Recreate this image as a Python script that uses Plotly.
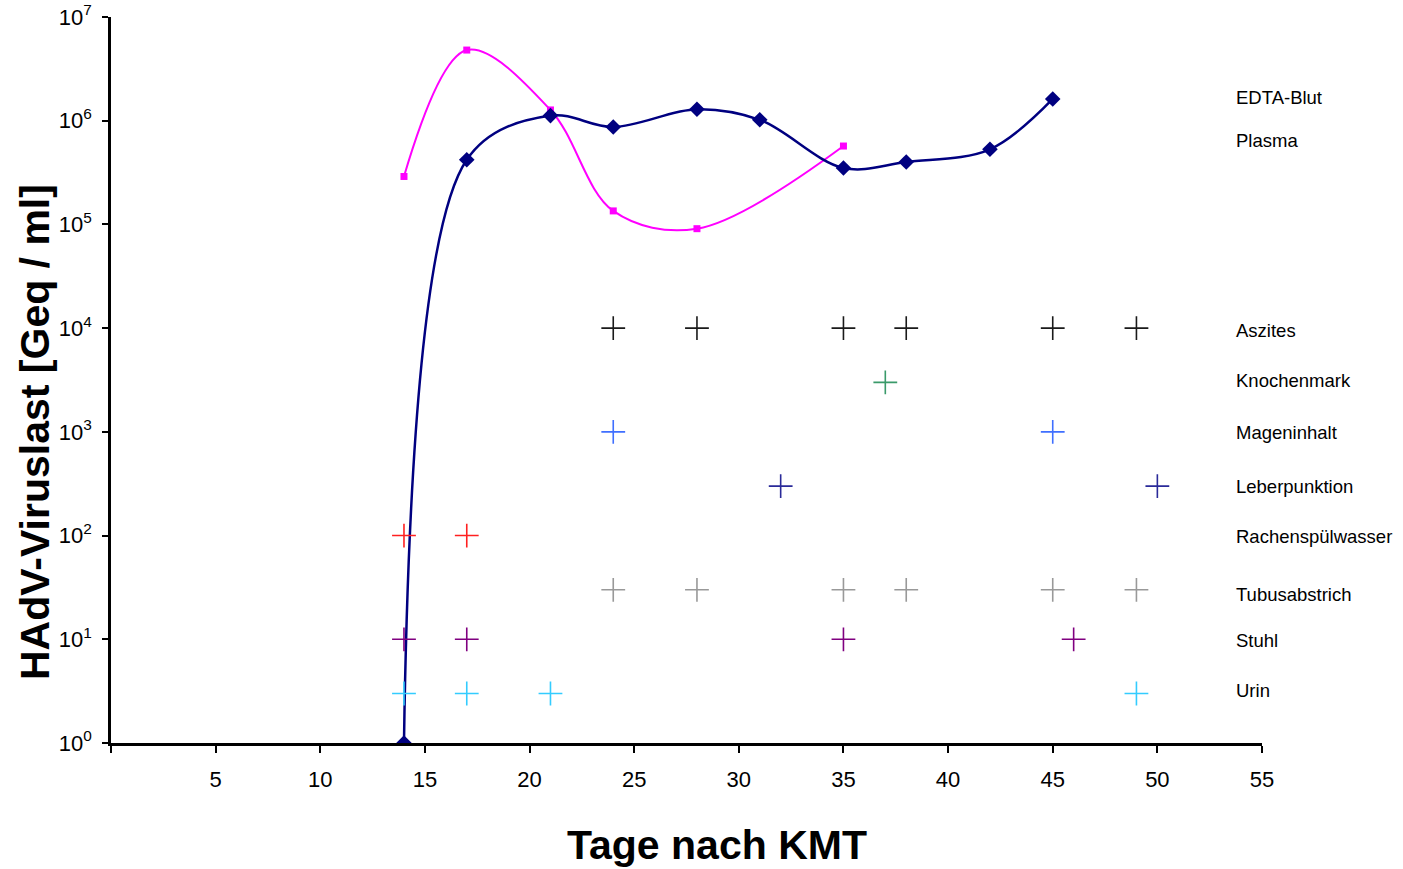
import plotly.graph_objects as go

# --- data ---
edta_days = [14, 17, 21, 24, 28, 31, 35, 38, 42, 45]
edta_vals = [1, 4.2e5, 1.12e6, 8.7e5, 1.29e6, 1.02e6, 3.5e5, 4.0e5, 5.3e5, 1.62e6]

plasma_days = [14, 17, 21, 24, 28, 35]
plasma_vals = [2.9e5, 4.8e6, 1.27e6, 1.35e5, 9.1e4, 5.7e5]

aszites_days = [24, 28, 35, 38, 45, 49]
aszites_vals = [1e4, 1e4, 1e4, 1e4, 1e4, 1e4]

knochenmark_days = [37]
knochenmark_vals = [3e3]

mageninhalt_days = [24, 45]
mageninhalt_vals = [1e3, 1e3]

leber_days = [32, 50]
leber_vals = [3e2, 3e2]

rachen_days = [14, 17]
rachen_vals = [1e2, 1e2]

tubus_days = [24, 28, 35, 38, 45, 49]
tubus_vals = [30, 30, 30, 30, 30, 30]

stuhl_days = [14, 17, 35, 46]
stuhl_vals = [10, 10, 10, 10]

urin_days = [14, 17, 21, 49]
urin_vals = [3, 3, 3, 3]

x_ticks = [0, 5, 10, 15, 20, 25, 30, 35, 40, 45, 50, 55]
x_ticklabels = ["", "5", "10", "15", "20", "25", "30", "35", "40", "45", "50", "55"]
y_ticks = [1, 10, 100, 1e3, 1e4, 1e5, 1e6, 1e7]
y_ticklabels = ["10<sup>%d</sup>" % i for i in range(8)]

labels = ["EDTA-Blut", "Plasma", "Aszites", "Knochenmark", "Mageninhalt",
          "Leberpunktion", "Rachenspülwasser", "Tubusabstrich", "Stuhl", "Urin"]
label_ypix = [98, 141, 330, 380, 432, 486, 536, 594, 640, 690]

FONT = "Liberation Sans, Arial, sans-serif"

fig = go.Figure()

fig.add_trace(go.Scatter(
    x=plasma_days, y=plasma_vals, mode="lines+markers",
    line=dict(color="#FF00FF", width=2, shape="spline", smoothing=1.0),
    marker=dict(symbol="square", size=7, color="#FF00FF"),
    name="Plasma", showlegend=False))

fig.add_trace(go.Scatter(
    x=edta_days, y=edta_vals, mode="lines+markers",
    line=dict(color="#000080", width=2.5, shape="spline", smoothing=1.0),
    marker=dict(symbol="diamond", size=12, color="#000080"),
    name="EDTA-Blut", showlegend=False))

cross_series = [
    ("Aszites", aszites_days, aszites_vals, "#1a1a1a"),
    ("Knochenmark", knochenmark_days, knochenmark_vals, "#3a9a6a"),
    ("Mageninhalt", mageninhalt_days, mageninhalt_vals, "#3f6fff"),
    ("Leberpunktion", leber_days, leber_vals, "#2a2a99"),
    ("Rachenspülwasser", rachen_days, rachen_vals, "#FF2020"),
    ("Tubusabstrich", tubus_days, tubus_vals, "#999999"),
    ("Stuhl", stuhl_days, stuhl_vals, "#800080"),
    ("Urin", urin_days, urin_vals, "#33CCFF"),
]
for name, xs, ys, col in cross_series:
    fig.add_trace(go.Scatter(
        x=xs, y=ys, mode="markers", name=name, showlegend=False,
        marker=dict(symbol="cross-thin", size=17, line=dict(color=col, width=1.6))))

L, R, T, B = 111, 141, 17, 126
W, H = 1403, 869
pw, ph = W - L - R, H - T - B

annotations = []
for lab, yp in zip(labels, label_ypix):
    annotations.append(dict(
        text=lab, xref="paper", yref="paper",
        x=(1234 - L) / pw, y=(H - B - yp) / ph,
        xanchor="left", yanchor="middle", showarrow=False,
        font=dict(family=FONT, size=18.5, color="black")))

annotations.append(dict(
    text="<b>Tage nach KMT</b>", xref="paper", yref="paper",
    x=(717 - L) / pw, y=(H - B - 845) / ph, xanchor="center", yanchor="middle",
    showarrow=False, font=dict(family=FONT, size=41, color="black")))
annotations.append(dict(
    text="<b>HAdV-Viruslast [Geq / ml]</b>", xref="paper", yref="paper",
    x=(35 - L) / pw, y=(H - B - 432) / ph, xanchor="center", yanchor="middle",
    textangle=-90, showarrow=False, font=dict(family=FONT, size=41, color="black")))

fig.update_layout(
    width=W, height=H,
    margin=dict(l=L, r=R, t=T, b=B, autoexpand=False),
    paper_bgcolor="white", plot_bgcolor="white",
    font=dict(family=FONT, color="black"),
    annotations=annotations,
    xaxis=dict(range=[0, 55], tickvals=x_ticks, ticktext=x_ticklabels,
               showgrid=False, zeroline=False, showline=True, linecolor="black",
               linewidth=2.5, ticks="outside", ticklen=7, tickwidth=2,
               tickcolor="black", tickfont=dict(family=FONT, size=22),
               ticklabelstandoff=8, automargin=False),
    yaxis=dict(type="log", range=[0, 7], tickvals=y_ticks, ticktext=y_ticklabels,
               showgrid=False, zeroline=False, showline=True, linecolor="black",
               linewidth=2.5, ticks="outside", ticklen=6, tickwidth=2,
               tickcolor="black", tickfont=dict(family=FONT, size=22),
               ticklabelstandoff=6, automargin=False),
)

fig.write_html("out.html", config={"displayModeBar": False},
               post_script="document.body.style.margin='0';document.body.style.overflow='hidden';")
